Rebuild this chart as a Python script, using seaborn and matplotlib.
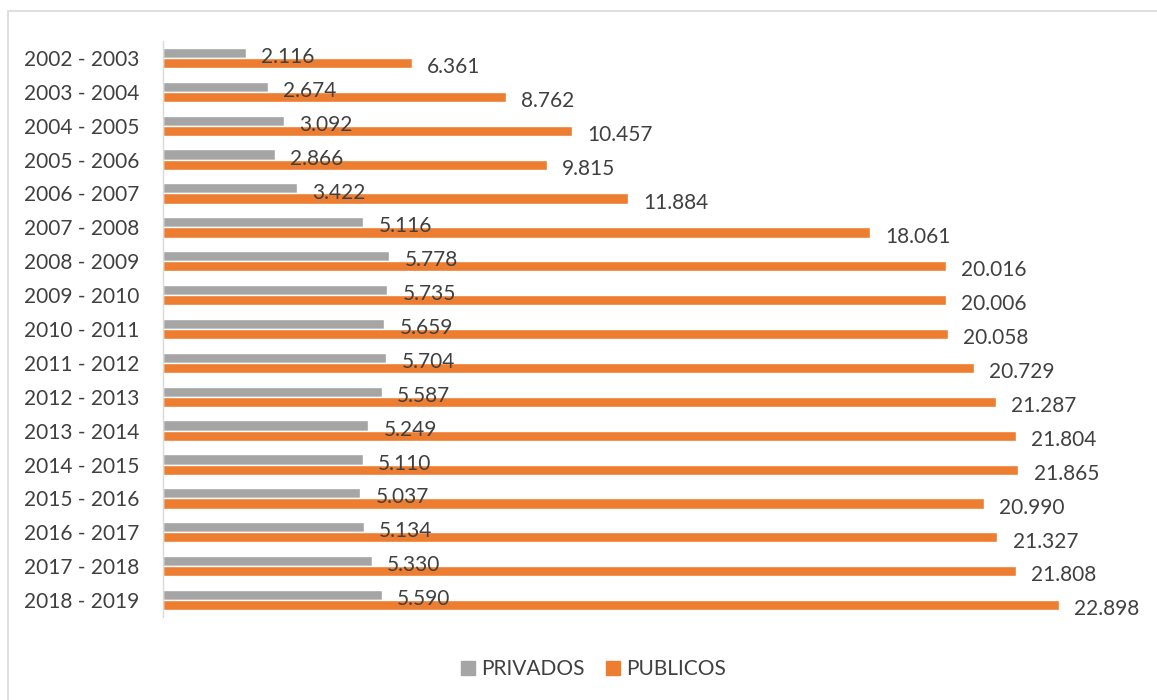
import pandas as pd
import matplotlib.pyplot as plt
import matplotlib.patches as mpatches
import seaborn as sns

# Datos por periodo
periodos = ['2002 - 2003', '2003 - 2004', '2004 - 2005', '2005 - 2006', '2006 - 2007',
            '2007 - 2008', '2008 - 2009', '2009 - 2010', '2010 - 2011', '2011 - 2012',
            '2012 - 2013', '2013 - 2014', '2014 - 2015', '2015 - 2016', '2016 - 2017',
            '2017 - 2018', '2018 - 2019']
privados = [2116, 2674, 3092, 2866, 3422, 5116, 5778, 5735, 5659, 5704,
            5587, 5249, 5110, 5037, 5134, 5330, 5590]
publicos = [6361, 8762, 10457, 9815, 11884, 18061, 20016, 20006, 20058, 20729,
            21287, 21804, 21865, 20990, 21327, 21808, 22898]
series = ['PRIVADOS', 'PUBLICOS']
colores = ['#A5A5A5', '#ED7D31']

df = pd.DataFrame({'periodo': periodos, 'PRIVADOS': privados, 'PUBLICOS': publicos})
df_long = df.melt(id_vars='periodo', var_name='tipo', value_name='valor')

sns.set_theme(style='white')
plt.rcParams['font.family'] = ['Lato', 'DejaVu Sans']
texto = '#404040'

fig = plt.figure(figsize=(11.57, 7), dpi=100)
ax = fig.add_axes([163 / 1157, 1 - 617 / 700, 978 / 1157, 576 / 700])

sns.barplot(data=df_long, y='periodo', x='valor', hue='tipo', hue_order=series,
            palette=colores, width=0.6, orient='h', ax=ax, legend=False,
            saturation=1, errorbar=None)

# etiquetas de valor con separador de miles
for cont in ax.containers:
    etiquetas = [f'{int(v):,}'.replace(',', '.') for v in cont.datavalues]
    textos = ax.bar_label(cont, labels=etiquetas, padding=11, fontsize=15, color=texto)
    for t in textos:
        t.xyann = (11, -3)  # un poco mas abajo, como en el original

ax.set_xlim(0, 25000)
ax.set_xlabel('')
ax.set_ylabel('')
ax.set_xticks([])
ax.tick_params(axis='y', length=0, labelsize=15, labelcolor=texto, pad=17)
for lado in ['top', 'right', 'bottom']:
    ax.spines[lado].set_visible(False)
ax.spines['left'].set_color('#D9D9D9')
ax.spines['left'].set_linewidth(1)

handles = [mpatches.Patch(color=c, label=s) for c, s in zip(colores, series)]
fig.legend(handles=handles, loc='center', bbox_to_anchor=(0.513, 0.044), ncol=2,
           frameon=False, fontsize=15, labelcolor=texto, handlelength=0.7,
           handleheight=0.7, handletextpad=0.3, columnspacing=1.0)

# marco del grafico
marco = mpatches.Rectangle((8 / 1157, -0.1), 1.1, 1 - 11 / 700 + 0.1,
                           transform=fig.transFigure, fill=False,
                           edgecolor='#D9D9D9', linewidth=1.2)
fig.patches.append(marco)

fig.savefig('out.png', dpi=100)
